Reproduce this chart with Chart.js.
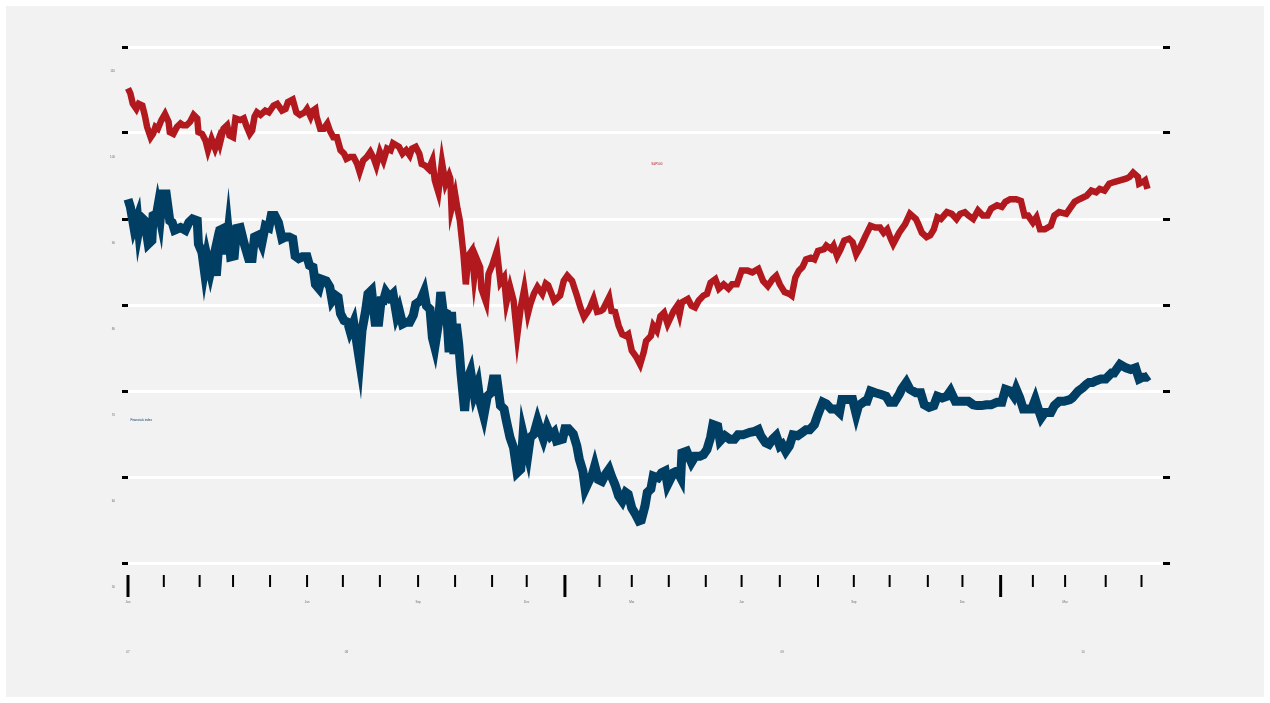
<!DOCTYPE html>
<html>
<head>
<meta charset="utf-8">
<script src="https://cdn.jsdelivr.net/npm/chart.js@4.4.1/dist/chart.umd.min.js"></script>
<style>
  html, body { margin: 0; padding: 0; background: #fff; }
  #panel { position: absolute; left: 6px; top: 6px; width: 1258px; height: 691px; background: #f2f2f2; }
</style>
</head>
<body>
<div id="panel"><canvas id="chart" width="1258" height="691"></canvas></div>
<script>
// x runs in days from the start of 2008 (as spaced on the reference axis)
const redDays = [0,2,4,7,9,12,14,16,19,21,23,25,28,31,34,35,38,41,44,46,49,52,55,58,59,62,65,67,70,73,76,77,80,83,85,88,90,94,97,99,102,104,106,108,111,115,118,122,125,129,132,134,138,141,144,148,150,153,155,157,158,161,164,167,169,172,175,178,181,183,186,189,192,194,197,200,203,206,208,211,214,217,220,222,227,230,233,236,238,241,244,246,249,252,255,257,260,263,266,269,270,271,274,276,278,281,283,285,288,290,292,295,296,300,302,305,309,312,315,317,320,323,326,329,332,335,337,340,343,347,350,352,357,362,365,368,372,376,379,382,385,387,390,393,396,398,403,405,408,411,414,417,419,422,426,429,432,434,438,440,443,446,449,452,457,460,462,464,469,472,475,478,482,485,488,492,495,499,503,506,510,514,519,523,528,532,536,540,543,546,550,554,556,559,562,565,568,572,575,578,583,585,589,591,594,597,600,604,607,610,614,618,622,626,630,633,636,639,641,646,651,655,660,662,665,669,672,675,678,681,686,690,694,697,701,704,708,712,716,720,723,728,732,735,739,744,748,751,754,758,761,764,768,773,776,780,786,790,793,797,803,807,811,814,818,822,826,831,836,839,842,846,847,850,852,854];
const redValues = [105.2,104.6,103.4,102.8,103.4,103.2,102.1,100.7,99.5,99.9,100.7,100.5,101.5,102.2,101.3,100.1,99.9,100.7,101.1,100.9,100.9,101.3,102.1,101.7,100.1,99.9,99.1,98.0,99.3,98.2,99.3,98.8,100.5,100.9,99.7,99.5,101.7,101.5,101.7,100.9,99.9,100.3,101.9,102.4,102.1,102.6,102.4,103.2,103.4,102.6,102.8,103.6,103.9,102.4,102.1,102.4,102.8,101.9,102.6,102.8,101.9,100.5,100.5,101.1,100.3,99.5,99.5,98.0,97.6,97.0,97.2,97.2,96.4,95.5,96.8,97.2,97.8,97.0,96.2,97.8,96.8,98.2,98.0,98.8,98.4,97.6,98.0,97.4,98.2,98.4,97.6,96.4,96.2,95.8,96.8,94.5,93.1,96.6,94.1,95.1,94.7,91.2,92.9,91.2,89.8,85.9,82.4,85.7,86.3,83.2,85.4,84.4,81.9,80.3,83.6,84.6,86.3,82.6,83.2,80.3,82.1,80.5,76.4,79.7,81.9,79.0,80.1,81.3,82.1,81.3,82.5,82.3,80.5,81.1,82.8,83.4,82.8,81.1,79.7,78.6,79.2,79.7,80.7,79.2,79.3,79.5,80.9,79.3,79.2,77.6,76.6,76.4,76.6,74.7,73.9,73.1,74.5,75.8,76.4,77.6,77.0,78.7,79.1,77.8,79.3,79.9,78.9,80.3,80.7,79.9,79.7,80.5,81.1,81.3,82.6,83.0,81.9,82.4,81.9,82.4,82.4,84.0,84.0,83.8,84.2,82.8,82.2,83.0,83.4,82.4,81.5,81.3,81.1,83.2,84.0,84.4,85.3,85.5,85.3,86.3,86.5,86.9,86.5,86.9,85.7,86.5,87.5,87.7,87.3,85.9,86.9,88.1,89.2,89.0,89.0,88.4,88.8,87.7,87.1,88.4,89.4,90.6,90.0,89.4,88.4,87.9,88.1,88.8,90.2,90.0,90.8,90.6,90.0,90.6,90.8,90.4,90.0,91.0,90.4,90.4,91.2,91.6,91.4,92.0,92.3,92.3,92.1,90.4,90.4,89.6,90.2,88.8,88.8,89.2,90.4,90.8,90.6,91.4,92.0,92.3,92.7,93.3,93.1,93.5,93.3,94.1,94.3,94.5,94.7,94.9,95.4,94.9,94.1,94.3,94.5,93.5];

const blueDays = [0,2,5,8,9,11,14,17,20,21,24,25,27,29,32,35,37,39,44,48,51,54,58,59,62,64,66,69,72,74,77,80,82,84,86,89,91,94,97,101,104,106,109,112,115,118,120,123,126,129,132,135,138,140,143,146,150,152,155,157,160,162,166,169,171,174,176,178,181,184,186,189,191,194,196,199,201,204,207,210,212,214,216,219,222,225,227,230,233,236,239,241,245,248,250,253,255,257,260,262,264,267,269,271,273,275,277,279,282,284,287,290,293,295,298,301,304,306,309,312,315,317,320,323,326,329,331,335,337,340,343,345,348,351,354,357,359,364,366,369,373,376,378,381,383,386,389,391,394,397,400,403,405,408,411,414,417,419,422,425,428,430,433,435,438,440,444,447,450,452,457,460,463,464,468,472,475,479,482,485,488,490,494,496,500,504,508,511,515,521,525,528,530,534,537,540,543,546,548,551,554,557,561,565,568,571,575,578,582,585,589,593,596,598,603,607,610,612,617,619,622,626,631,635,638,642,646,648,652,655,660,664,667,671,675,678,682,686,689,693,696,700,704,708,711,715,719,723,728,732,735,739,742,744,747,750,754,757,760,762,765,768,773,776,780,784,789,791,796,800,803,805,808,811,815,819,824,826,831,836,840,844,847,850,853,855];
const blueValues = [92.3,91.4,89.0,90.2,88.7,90.2,89.8,87.1,87.5,90.4,90.6,91.4,90.0,92.9,92.9,89.8,89.6,88.7,89.0,88.7,89.6,90.0,89.8,87.1,86.1,84.0,85.7,83.8,85.7,83.4,88.7,88.9,85.9,88.5,85.6,85.7,88.9,89.0,87.3,85.4,85.4,87.9,88.1,87.1,89.2,89.0,90.4,90.4,89.6,87.7,87.9,87.9,87.7,85.7,85.4,85.6,85.6,84.6,84.4,82.4,81.9,83.0,82.8,82.1,80.5,81.1,80.9,79.0,78.2,78.0,77.0,78.0,76.2,73.5,77.0,79.3,81.3,81.7,78.0,78.0,80.5,80.5,81.5,80.9,81.3,78.8,79.5,77.8,78.0,78.0,78.8,80.1,80.5,81.5,79.9,79.5,76.2,75.1,77.8,81.5,79.2,79.0,74.5,79.2,74.3,77.8,75.5,72.0,67.7,71.2,72.3,69.6,70.8,68.7,67.1,69.4,69.8,71.4,71.4,68.3,67.9,66.5,64.6,63.4,60.5,60.9,65.0,62.6,64.6,65.0,66.5,65.6,64.4,65.8,64.8,65.2,64.2,64.4,65.6,65.6,65.0,63.6,62.1,60.7,58.6,59.5,60.3,61.3,59.7,59.5,60.3,60.9,60.1,59.1,57.8,57.2,58.2,58.0,56.4,55.7,54.9,55.0,56.6,58.2,58.6,60.1,59.9,60.5,60.7,59.1,60.5,60.7,59.9,62.8,63.0,61.7,62.4,62.4,62.6,63.2,64.6,66.1,65.9,64.2,64.8,64.4,64.4,64.9,64.9,65.2,65.3,65.5,64.8,64.0,63.8,64.4,64.8,63.6,63.8,63.0,63.6,64.9,64.8,65.2,65.5,65.5,66.1,67.3,68.7,68.5,67.9,67.9,67.5,69.0,69.0,69.0,67.3,68.3,68.8,68.8,70.0,69.8,69.6,69.4,68.7,68.7,69.6,70.2,71.0,70.2,69.8,69.8,68.4,68.1,68.3,69.4,69.2,69.4,70.0,68.8,68.8,68.8,68.8,68.4,68.3,68.3,68.4,68.4,68.7,68.7,70.2,70.0,69.4,70.2,69.2,67.9,67.9,67.9,69.0,68.1,66.9,67.5,67.5,68.3,68.8,68.8,69.0,69.2,70.0,70.4,70.8,71.0,71.0,71.2,71.4,71.4,72.1,72.1,73.1,72.7,72.5,72.7,71.4,71.6,71.6,71.8];

const yTicks      = [50, 60, 70, 80, 90, 100, 110];
// month ticks as placed on the reference axis (trading-day spacing)
const monthStarts = [0,30,60,88,119,150,180,211,243,274,305,334,366,395,422,453,484,514,546,578,608,638,670,699,731,758,785,819,849];
const yearStarts  = [0, 366, 731];
const monthLabels = { 0: 'Jan', 150: 'Jun', 243: 'Sep', 334: 'Dec', 422: 'Mar', 514: 'Jun', 608: 'Sep', 699: 'Dec', 785: 'Mar' };
const yearTicks   = [0, 183, 548, 800];
const yearLabels  = ['07', '08', '09', '10'];

const COLORS = {
  red:   '#B1191F',
  blue:  '#003E63',
  grid:  '#ffffff',
  label: '#6b6b6b'
};
const FONT = "'Liberation Sans', Arial, sans-serif";

// ── x tick marks (sit below the plot with a gap) + labels on the lines ──
const extras = {
  id: 'extras',
  afterDraw(chart) {
    const { ctx, chartArea, scales } = chart;
    const xs = scales.x, ys = scales.y;
    ctx.save();
    ctx.strokeStyle = '#000';
    monthStarts.forEach(d => {
      const major = yearStarts.includes(d);
      const px = xs.getPixelForValue(d);
      ctx.lineWidth = major ? 3 : 2;
      ctx.beginPath();
      ctx.moveTo(px, chartArea.bottom + 12);
      ctx.lineTo(px, chartArea.bottom + (major ? 34 : 24));
      ctx.stroke();
    });
    ctx.font = '3px ' + FONT;
    ctx.textBaseline = 'middle';
    ctx.fillStyle = COLORS.red;
    ctx.textAlign = 'center';
    ctx.fillText('S&P500', xs.getPixelForValue(443), ys.getPixelForValue(96.4));
    ctx.fillStyle = COLORS.blue;
    ctx.textAlign = 'left';
    ctx.fillText('Financials index', xs.getPixelForValue(2), ys.getPixelForValue(66.6));
    ctx.restore();
  }
};

new Chart(document.getElementById('chart'), {
  type: 'line',
  data: {
    datasets: [
      {
        label: 'S&P500',
        data: redDays.map((d, i) => ({ x: d, y: redValues[i] })),
        borderColor: COLORS.red,
        borderWidth: 6.5,
        pointRadius: 0,
        tension: 0,
        clip: false
      },
      {
        label: 'Financials index',
        data: blueDays.map((d, i) => ({ x: d, y: blueValues[i] })),
        borderColor: COLORS.blue,
        borderWidth: 9,
        pointRadius: 0,
        tension: 0,
        clip: false
      }
    ]
  },
  options: {
    responsive: false,
    animation: false,
    layout: { padding: { top: 41, right: 0, bottom: 0, left: 0 } },
    plugins: { legend: { display: false }, tooltip: { enabled: false } },
    scales: {
      x: {
        type: 'linear', position: 'bottom', min: 0, max: 867,
        afterBuildTicks: s => { s.ticks = monthStarts.map(v => ({ value: v })); },
        afterFit: s => { s.height = 48; },
        grid: { display: false, drawTicks: false },
        border: { display: false },
        ticks: {
          autoSkip: false, maxRotation: 0, padding: 37,
          color: COLORS.label, font: { family: FONT, size: 3 },
          callback: v => monthLabels[v] || ''
        }
      },
      x2: {
        type: 'linear', position: 'bottom', min: 0, max: 867,
        afterBuildTicks: s => { s.ticks = yearTicks.map(v => ({ value: v })); },
        afterFit: s => { s.height = 86; },
        grid: { display: false, drawTicks: false },
        border: { display: false },
        ticks: {
          autoSkip: false, maxRotation: 0, padding: 39,
          color: COLORS.label, font: { family: FONT, size: 3 },
          callback: v => yearLabels[yearTicks.indexOf(v)] || ''
        }
      },
      y: {
        position: 'left', min: 50, max: 110,
        afterBuildTicks: s => { s.ticks = yTicks.map(v => ({ value: v })); },
        afterFit: s => { s.width = 122; },
        grid: { color: COLORS.grid, lineWidth: 3, tickColor: '#000', tickWidth: 3, tickLength: 6 },
        border: { display: false },
        ticks: { padding: 7, labelOffset: 24, color: COLORS.label, font: { family: FONT, size: 3 } }
      },
      y2: {
        position: 'right', min: 50, max: 110,
        afterBuildTicks: s => { s.ticks = yTicks.map(v => ({ value: v })); },
        afterFit: s => { s.width = 101; },
        grid: { drawOnChartArea: false, tickColor: '#000', tickWidth: 3, tickLength: 7 },
        border: { display: false },
        ticks: { display: false }
      }
    }
  },
  plugins: [extras]
});
</script>
</body>
</html>
